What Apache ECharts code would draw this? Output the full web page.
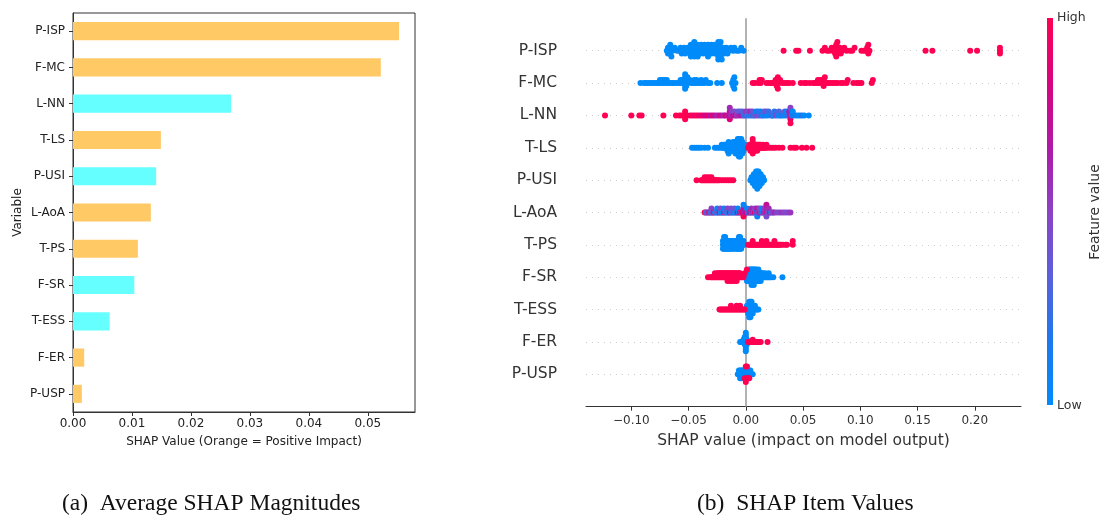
<!DOCTYPE html>
<html>
<head>
<meta charset="utf-8">
<script src="https://cdn.jsdelivr.net/npm/echarts@6/dist/echarts.min.js"></script>
<style>
  html, body { margin: 0; padding: 0; background: #ffffff; }
  #chart { width: 1103px; height: 517px; }
</style>
</head>
<body>
<div id="chart"></div>
<script>
// ---------- (a) mean |SHAP| per variable, listed top to bottom ----------
const variables = ['P-ISP', 'F-MC', 'L-NN', 'T-LS', 'P-USI', 'L-AoA', 'T-PS', 'F-SR', 'T-ESS', 'F-ER', 'P-USP'];
const meanAbsShap = [0.0553, 0.0522, 0.0268, 0.0149, 0.0141, 0.0132, 0.0110, 0.0104, 0.0062, 0.0019, 0.0015];
const impactSign = ['+', '+', '-', '+', '-', '+', '+', '-', '-', '+', '+'];
const barTicks = [0, 0.01, 0.02, 0.03, 0.04, 0.05];

// ---------- (b) per-sample SHAP values ----------
// *_low : samples with a low feature value, *_high : samples with a high feature value
const P_ISP_low = [-0.069, -0.068, -0.068, -0.067, -0.067, -0.066, -0.066, -0.065, -0.064, -0.062, -0.060,
  -0.058, -0.057, -0.056, -0.055, -0.054, -0.053, -0.052, -0.051,
  -0.050, -0.049, -0.049, -0.048, -0.048, -0.047, -0.047, -0.046, -0.046, -0.045, -0.045, -0.044, -0.044,
  -0.043, -0.042, -0.042, -0.041, -0.040, -0.040, -0.039, -0.038, -0.038, -0.037, -0.036, -0.035, -0.035,
  -0.034, -0.033, -0.033, -0.032, -0.031, -0.030, -0.030, -0.029, -0.028, -0.027, -0.027, -0.026,
  -0.025, -0.025, -0.024, -0.024, -0.024, -0.024, -0.023, -0.023, -0.023, -0.023, -0.022, -0.022,
  -0.021, -0.020, -0.020, -0.019, -0.018, -0.017, -0.016, -0.015,
  -0.013, -0.011, -0.010, -0.008, -0.006, -0.004, -0.002];
const P_ISP_high = [0.033, 0.044, 0.046, 0.056, 0.067, 0.069, 0.071, 0.073, 0.075, 0.076, 0.077,
  0.078, 0.078, 0.078, 0.079, 0.079, 0.080, 0.081, 0.082, 0.083, 0.084, 0.086, 0.088, 0.091, 0.093, 0.095,
  0.101, 0.103, 0.105, 0.106, 0.107, 0.107, 0.108, 0.157, 0.163, 0.196, 0.202, 0.222, 0.222, 0.222];

const F_MC_low = [-0.092, -0.089, -0.087, -0.085, -0.083, -0.081, -0.079, -0.077, -0.076, -0.075,
  -0.074, -0.073, -0.072, -0.071, -0.070, -0.069, -0.068, -0.066, -0.064, -0.062, -0.060,
  -0.058, -0.057, -0.056, -0.055, -0.054, -0.054, -0.053, -0.053, -0.053, -0.053, -0.052, -0.052, -0.052,
  -0.051, -0.050, -0.049, -0.047, -0.046, -0.045, -0.044, -0.043, -0.042, -0.040, -0.039,
  -0.038, -0.036, -0.035, -0.033, -0.031, -0.025, -0.021, -0.012, -0.011, -0.011, -0.011, -0.010, -0.010, -0.009];
const F_MC_high = [0.006, 0.008, 0.011, 0.012, 0.013, 0.014, 0.018, 0.020, 0.022, 0.024, 0.025,
  0.026, 0.027, 0.027, 0.027, 0.028, 0.028, 0.029, 0.030, 0.032, 0.034, 0.036, 0.038, 0.041, 0.048,
  0.051, 0.053, 0.056, 0.059, 0.060, 0.062, 0.063, 0.064, 0.065, 0.066, 0.067, 0.068, 0.068, 0.068,
  0.069, 0.070, 0.072, 0.074, 0.076, 0.078, 0.080, 0.083, 0.085, 0.088, 0.089, 0.094, 0.097,
  0.099, 0.101, 0.110, 0.111];

// mixed rows: [shap, feature value (0 = low, 1 = high)]
const L_NN = [[-0.123, 1], [-0.100, 1], [-0.093, 1], [-0.091, 1], [-0.072, 1], [-0.061, 1],
  [-0.058, 1], [-0.056, 1], [-0.054, 1], [-0.053, 1], [-0.053, 1], [-0.052, 1], [-0.049, 0.95], [-0.047, 1],
  [-0.045, 0.9], [-0.043, 1], [-0.041, 0.9], [-0.039, 0.95], [-0.037, 0.85], [-0.035, 0.8],
  [-0.033, 0.9], [-0.031, 0.7], [-0.029, 0.85], [-0.027, 0.75], [-0.025, 0.6], [-0.023, 0.8],
  [-0.021, 0.7], [-0.019, 0.55], [-0.018, 0.8], [-0.016, 0.65], [-0.015, 0.75], [-0.014, 0.7],
  [-0.014, 0.85], [-0.014, 0.6], [-0.013, 0.6], [-0.012, 0.5], [-0.011, 0.7], [-0.010, 0.45],
  [-0.009, 0.8], [-0.008, 0.55], [-0.007, 0.35], [-0.006, 0.6], [-0.005, 0.4], [-0.004, 0.7],
  [-0.003, 0.3], [-0.002, 0.5], [-0.001, 0.2], [0.000, 0.55], [0.001, 0.3], [0.002, 0.45],
  [0.003, 0.1], [0.004, 0.6], [0.005, 0.25], [0.006, 0.4], [0.007, 0.15], [0.008, 0.35],
  [0.009, 0.05], [0.010, 0.45], [0.011, 0.2], [0.012, 0.3], [0.013, 0.1], [0.014, 0.5],
  [0.015, 0.0], [0.016, 0.3], [0.017, 0.15], [0.018, 0.4], [0.019, 0.05], [0.020, 0.25],
  [0.022, 0.1], [0.023, 0.35], [0.024, 0.0], [0.025, 0.2], [0.026, 0.45], [0.028, 0.1],
  [0.029, 0.3], [0.030, 0.0], [0.031, 0.2], [0.033, 0.05], [0.034, 0.35], [0.035, 0.1],
  [0.036, 0.0], [0.037, 0.25], [0.038, 0.7], [0.039, 0.85], [0.039, 0.6], [0.039, 0.9],
  [0.039, 0.5], [0.039, 1], [0.040, 0.15], [0.041, 0.0], [0.043, 0.1], [0.045, 0.05],
  [0.047, 0.0], [0.049, 0.2], [0.051, 0.0], [0.055, 0.0]];

const T_LS_low = [-0.047, -0.045, -0.043, -0.041, -0.039, -0.036, -0.033, -0.027, -0.025, -0.023,
  -0.021, -0.021, -0.020, -0.019, -0.019, -0.018, -0.018, -0.017, -0.017, -0.016, -0.016, -0.016,
  -0.015, -0.015, -0.014, -0.014, -0.014, -0.013, -0.013, -0.013, -0.012, -0.012, -0.012,
  -0.011, -0.011, -0.011, -0.011, -0.010, -0.010, -0.010, -0.010,
  -0.009, -0.009, -0.009, -0.009, -0.009, -0.008, -0.008, -0.008, -0.008, -0.008,
  -0.007, -0.007, -0.007, -0.007, -0.007, -0.007, -0.006, -0.006, -0.006, -0.006, -0.006, -0.006, -0.006,
  -0.005, -0.005, -0.005, -0.005, -0.005, -0.005, -0.005, -0.004, -0.004, -0.004, -0.004, -0.004, -0.004,
  -0.003, -0.003, -0.003, -0.003, -0.003, -0.002, -0.002, -0.002, -0.001, -0.001];
const T_LS_high = [0.002, 0.003, 0.003, 0.004, 0.004, 0.004, 0.005, 0.005, 0.005, 0.006, 0.006, 0.006,
  0.007, 0.007, 0.007, 0.008, 0.008, 0.008, 0.009, 0.009, 0.010, 0.010, 0.010, 0.011, 0.011,
  0.012, 0.012, 0.013, 0.013, 0.014, 0.015, 0.015, 0.016, 0.017, 0.018, 0.018, 0.020, 0.022,
  0.024, 0.026, 0.029, 0.032, 0.039, 0.042, 0.044, 0.049, 0.053, 0.058];

const P_USI_low = [0.004, 0.005, 0.005, 0.006, 0.006, 0.006, 0.007, 0.007, 0.007, 0.007,
  0.008, 0.008, 0.008, 0.008, 0.008, 0.009, 0.009, 0.009, 0.009, 0.009, 0.009,
  0.010, 0.010, 0.010, 0.010, 0.010, 0.010, 0.010, 0.011, 0.011, 0.011, 0.011, 0.011, 0.011,
  0.012, 0.012, 0.012, 0.012, 0.012, 0.013, 0.013, 0.013, 0.013, 0.014, 0.014, 0.014,
  0.015, 0.015, 0.016];
const P_USI_high = [-0.043, -0.039, -0.038, -0.037, -0.036, -0.036, -0.035, -0.034, -0.034, -0.033,
  -0.032, -0.032, -0.031, -0.030, -0.030, -0.029, -0.028, -0.027, -0.026, -0.025, -0.024,
  -0.023, -0.021, -0.019, -0.017, -0.015, -0.013, -0.011];

const L_AoA = [[-0.036, 1], [-0.035, 0.5], [-0.034, 0.3], [-0.033, 0.45], [-0.032, 0.9],
  [-0.031, 0.35], [-0.030, 0.1], [-0.030, 0.5], [-0.029, 0.4], [-0.028, 0.95], [-0.027, 0.2],
  [-0.026, 0.05], [-0.025, 0.45], [-0.025, 0.1], [-0.024, 0.1], [-0.023, 0.85], [-0.022, 0.0],
  [-0.022, 0.45], [-0.021, 0.3], [-0.020, 0.05], [-0.019, 0.9], [-0.019, 0.1], [-0.018, 0.1],
  [-0.017, 0.4], [-0.016, 0.0], [-0.016, 0.5], [-0.015, 0.2], [-0.014, 0.85], [-0.013, 0.05],
  [-0.013, 0.45], [-0.012, 0.1], [-0.011, 0.5], [-0.010, 0.0], [-0.010, 0.4], [-0.009, 0.3],
  [-0.008, 0.15], [-0.007, 0.8], [-0.007, 0.05], [-0.006, 0.05], [-0.005, 0.9], [-0.004, 0.45],
  [-0.003, 0.85], [-0.002, 0.95], [-0.002, 0.7], [-0.002, 1], [-0.002, 0.05], [-0.001, 0.6],
  [0.000, 0.9], [0.001, 0.75], [0.001, 0.1], [0.002, 0.1], [0.003, 0.55], [0.004, 0.8],
  [0.005, 0.0], [0.005, 0.6], [0.006, 0.6], [0.007, 0.45], [0.008, 0.9], [0.008, 0.5],
  [0.009, 0.15], [0.010, 0.6], [0.010, 0.7], [0.010, 0.05], [0.011, 0.5], [0.012, 0.75],
  [0.012, 0.45], [0.013, 0.4], [0.014, 0.55], [0.014, 0.1], [0.015, 0.1], [0.016, 0.65],
  [0.016, 0.5], [0.017, 0.5], [0.018, 0.85], [0.018, 0.6], [0.018, 0.45], [0.018, 0.75],
  [0.019, 0.55], [0.020, 0.4], [0.020, 0.6], [0.021, 0.65], [0.022, 0.2], [0.023, 0.5],
  [0.024, 0.45], [0.025, 0.6], [0.027, 0.5], [0.029, 0.45], [0.031, 0.55], [0.033, 0.5],
  [0.035, 0.45], [0.037, 0.5], [0.039, 0.55]];

const T_PS_low = [-0.020, -0.020, -0.020, -0.019, -0.019, -0.019, -0.019, -0.018, -0.018, -0.018, -0.018,
  -0.017, -0.017, -0.017, -0.016, -0.016, -0.016, -0.015, -0.015, -0.015, -0.014, -0.014, -0.014,
  -0.013, -0.013, -0.013, -0.012, -0.012, -0.012, -0.011, -0.011, -0.011, -0.010, -0.010,
  -0.009, -0.009, -0.009, -0.008, -0.008, -0.008, -0.007, -0.007, -0.007,
  -0.006, -0.006, -0.006, -0.006, -0.005, -0.005, -0.005, -0.005, -0.004, -0.004, -0.004,
  -0.003, -0.003, -0.002, -0.002, -0.001];
const T_PS_high = [0.002, 0.003, 0.004, 0.005, 0.006, 0.006, 0.007, 0.008, 0.009, 0.010, 0.011, 0.012,
  0.013, 0.014, 0.014, 0.015, 0.016, 0.017, 0.018, 0.018, 0.019, 0.020, 0.021, 0.022, 0.023, 0.024,
  0.025, 0.025, 0.026, 0.027, 0.028, 0.029, 0.030, 0.031, 0.033, 0.035, 0.036, 0.041, 0.041];

const F_SR_low = [-0.001, 0.000, 0.000, 0.001, 0.001, 0.001, 0.002, 0.002, 0.002,
  0.003, 0.003, 0.003, 0.003, 0.004, 0.004, 0.004, 0.004, 0.005, 0.005, 0.005, 0.005, 0.005,
  0.006, 0.006, 0.006, 0.006, 0.007, 0.007, 0.007, 0.007, 0.007, 0.008, 0.008, 0.008, 0.008,
  0.009, 0.009, 0.009, 0.009, 0.010, 0.010, 0.010, 0.011, 0.011, 0.011, 0.011,
  0.012, 0.012, 0.012, 0.013, 0.013, 0.013, 0.014, 0.014, 0.015, 0.015, 0.016, 0.017, 0.017,
  0.018, 0.019, 0.020, 0.020, 0.021, 0.022, 0.024, 0.032];
const F_SR_high = [-0.033, -0.031, -0.030, -0.029, -0.028, -0.027, -0.027, -0.026, -0.025, -0.025,
  -0.024, -0.024, -0.023, -0.023, -0.022, -0.022, -0.021, -0.021, -0.020, -0.020, -0.019, -0.019,
  -0.018, -0.018, -0.017, -0.017, -0.016, -0.016, -0.016, -0.015, -0.015, -0.014, -0.014, -0.014,
  -0.013, -0.013, -0.012, -0.012, -0.012, -0.011, -0.011, -0.010, -0.010, -0.010, -0.009, -0.009,
  -0.008, -0.008, -0.008, -0.007, -0.007, -0.006, -0.006, -0.005, -0.005, -0.004, -0.003,
  -0.002, -0.001, 0.001];

const T_ESS_low = [0.000, 0.001, 0.001, 0.002, 0.002, 0.002, 0.003, 0.003, 0.003, 0.003, 0.003,
  0.004, 0.004, 0.004, 0.004, 0.004, 0.005, 0.005, 0.005, 0.005, 0.006, 0.006, 0.006,
  0.007, 0.007, 0.008, 0.008, 0.009, 0.010, 0.011];
const T_ESS_high = [-0.023, -0.022, -0.021, -0.020, -0.019, -0.018, -0.017, -0.016, -0.015,
  -0.014, -0.013, -0.013, -0.012, -0.011, -0.010, -0.009, -0.008, -0.008, -0.007, -0.006,
  -0.005, -0.005, -0.004, -0.003, -0.002, -0.001];

const F_ER_low = [-0.005, -0.004, -0.003, -0.002, -0.002, -0.001, -0.001, -0.001, -0.001,
  0.000, 0.000, 0.000, 0.000, 0.000, 0.000, 0.000, 0.000, 0.000, 0.001, 0.001, 0.001];
const F_ER_high = [0.002, 0.003, 0.004, 0.005, 0.006, 0.006, 0.007, 0.008, 0.009, 0.010,
  0.011, 0.012, 0.013, 0.019];

const P_USP_low = [-0.007, -0.006, -0.006, -0.005, -0.005, -0.005, -0.004, -0.004, -0.004,
  -0.003, -0.003, -0.002, -0.002, -0.001, -0.001, 0.000, 0.000, 0.000, 0.001, 0.001,
  0.002, 0.002, 0.003, 0.003, 0.004, 0.004, 0.005, 0.006];
const P_USP_high = [-0.001, 0.000, 0.000, 0.001, 0.001, 0.002, 0.003];

const shapTicks = [-0.10, -0.05, 0.00, 0.05, 0.10, 0.15, 0.20];

// ---------- helpers ----------
function lowHigh(low, high) {
  return low.map(v => [v, 0]).concat(high.map(v => [v, 1]));
}
const samplesByVariable = {
  'P-ISP': lowHigh(P_ISP_low, P_ISP_high),
  'F-MC': lowHigh(F_MC_low, F_MC_high),
  'L-NN': L_NN,
  'T-LS': lowHigh(T_LS_low, T_LS_high),
  'P-USI': lowHigh(P_USI_low, P_USI_high),
  'L-AoA': L_AoA,
  'T-PS': lowHigh(T_PS_low, T_PS_high),
  'F-SR': lowHigh(F_SR_low, F_SR_high),
  'T-ESS': lowHigh(T_ESS_low, T_ESS_high),
  'F-ER': lowHigh(F_ER_low, F_ER_high),
  'P-USP': lowHigh(P_USP_low, P_USP_high)
};

// beeswarm stacking: bin the values of one row and pile points of a bin up/down alternately
function beeswarmOffsets(vals, rowHeight) {
  const nbins = 100;
  const mn = Math.min(...vals), mx = Math.max(...vals);
  const quant = vals.map(v => Math.round(nbins * (v - mn) / (mx - mn + 1e-8)));
  const order = vals.map((_, i) => i).sort((a, b) => (quant[a] - quant[b]) || (a - b));
  const ys = new Array(vals.length).fill(0);
  let layer = 0, lastBin = -1;
  for (const i of order) {
    if (quant[i] !== lastBin) layer = 0;
    ys[i] = Math.ceil(layer / 2) * ((layer % 2) * 2 - 1);
    layer += 1;
    lastBin = quant[i];
  }
  const m = Math.max(...ys.map(y => y + 1));
  return ys.map(y => y * 0.9 * (rowHeight / m));
}

const nRows = variables.length;
const swarmData = [];
variables.forEach((name, i) => {
  const rowY = nRows - 1 - i;
  const pts = samplesByVariable[name];
  const offs = beeswarmOffsets(pts.map(p => p[0]), 0.4);
  pts.forEach((p, k) => swarmData.push([p[0], rowY + offs[k], p[1]]));
});

const redBlue = ['#008bfb', '#1c78ee', '#5a5fdc', '#8c42c6', '#b018a8', '#d8047f', '#ff0052'];
const font = 'DejaVu Sans';

const chart = echarts.init(document.getElementById('chart'), null, { renderer: 'canvas' });
chart.setOption({
  animation: false,
  backgroundColor: '#ffffff',
  grid: [
    { left: 73, top: 13, width: 342, height: 399, show: true, borderColor: '#333333', borderWidth: 1, backgroundColor: 'transparent' },
    { left: 586, top: 18.3, width: 435, height: 388.4 }
  ],
  xAxis: [
    {
      gridIndex: 0, type: 'value', min: 0, max: 0.058,
      axisLine: { show: true, onZero: false, lineStyle: { color: '#333333', width: 1 } },
      axisTick: { show: true, length: 4, lineStyle: { color: '#333333' }, customValues: barTicks },
      axisLabel: { customValues: barTicks, formatter: v => v.toFixed(2), fontFamily: font, fontSize: 12, color: '#222222', margin: 6 },
      splitLine: { show: false },
      name: 'SHAP Value (Orange = Positive Impact)', nameLocation: 'middle', nameGap: 24,
      nameTextStyle: { fontFamily: font, fontSize: 12, color: '#222222' }
    },
    {
      gridIndex: 1, type: 'value', min: -0.1396, max: 0.2404,
      axisLine: { show: true, onZero: false, lineStyle: { color: '#333333', width: 1 } },
      axisTick: { show: true, length: 4, lineStyle: { color: '#333333' }, customValues: shapTicks },
      axisLabel: {
        customValues: shapTicks,
        formatter: v => (v < -1e-9 ? '\u2212' : '') + Math.abs(v).toFixed(2),
        fontFamily: font, fontSize: 12, color: '#333333', margin: 8
      },
      splitLine: { show: false },
      name: 'SHAP value (impact on model output)', nameLocation: 'middle', nameGap: 26,
      nameTextStyle: { fontFamily: font, fontSize: 15.5, color: '#333333' }
    }
  ],
  yAxis: [
    {
      gridIndex: 0, type: 'category', inverse: true, data: variables,
      axisLine: { show: true, onZero: false, lineStyle: { color: '#333333', width: 1 } },
      axisTick: { show: true, length: 4, alignWithLabel: true, lineStyle: { color: '#333333' } },
      axisLabel: { fontFamily: font, fontSize: 12, color: '#222222', margin: 8 },
      name: 'Variable', nameLocation: 'middle', nameGap: 49, nameRotate: 90,
      nameTextStyle: { fontFamily: font, fontSize: 12, color: '#222222' }
    },
    {
      gridIndex: 1, type: 'value', min: -1, max: nRows,
      axisLine: { show: false, onZero: false }, axisTick: { show: false }, splitLine: { show: false },
      axisLabel: {
        customValues: variables.map((_, i) => i),
        formatter: v => variables[nRows - 1 - Math.round(v)] || '',
        fontFamily: font, fontSize: 15.5, color: '#333333', margin: 29
      }
    }
  ],
  visualMap: {
    type: 'continuous', show: false, min: 0, max: 1, dimension: 2, seriesIndex: 2,
    inRange: { color: redBlue }
  },
  series: [
    {
      type: 'bar', xAxisIndex: 0, yAxisIndex: 0, barWidth: '50%',
      data: meanAbsShap.map((v, i) => ({
        value: v,
        itemStyle: { color: impactSign[i] === '+' ? '#ffc966' : '#66ffff' }
      }))
    },
    {
      // row guide lines and the zero line, drawn beneath the swarm
      type: 'scatter', xAxisIndex: 1, yAxisIndex: 1, data: [], silent: true, z: 1,
      itemStyle: { color: '#cccccc' },
      markLine: {
        z: 1, silent: true, symbol: 'none', animation: false,
        label: { show: false },
        lineStyle: { color: '#cccccc', width: 1, type: [1, 5] },
        data: variables.map((_, i) => ({ yAxis: i }))
          .concat([{ xAxis: 0, lineStyle: { color: '#999999', width: 1.5, type: 'solid' } }])
      }
    },
    {
      type: 'scatter', xAxisIndex: 1, yAxisIndex: 1, z: 3,
      symbolSize: 6, data: swarmData,
      itemStyle: { opacity: 1 }
    }
  ],
  graphic: [
    {
      type: 'rect', left: 1047, top: 18, z: 10,
      shape: { width: 6, height: 387 },
      style: {
        fill: new echarts.graphic.LinearGradient(0, 0, 0, 1,
          redBlue.slice().reverse().map((c, i, a) => ({ offset: i / (a.length - 1), color: c })))
      }
    },
    { type: 'text', left: 1057, top: 11, style: { text: 'High', font: '12.5px "DejaVu Sans"', fill: '#333333' } },
    { type: 'text', left: 1057, top: 399, style: { text: 'Low', font: '12.5px "DejaVu Sans"', fill: '#333333' } },
    {
      type: 'text', x: 1095, y: 212, rotation: Math.PI / 2,
      style: { text: 'Feature value', font: '14px "DejaVu Sans"', fill: '#333333', align: 'center', verticalAlign: 'middle' }
    },
    { type: 'text', left: 62, top: 492, style: { text: '(a)  Average SHAP Magnitudes', font: '23.5px "Liberation Serif"', fill: '#111111' } },
    { type: 'text', left: 697, top: 492, style: { text: '(b)  SHAP Item Values', font: '23.5px "Liberation Serif"', fill: '#111111' } }
  ]
});
</script>
</body>
</html>
